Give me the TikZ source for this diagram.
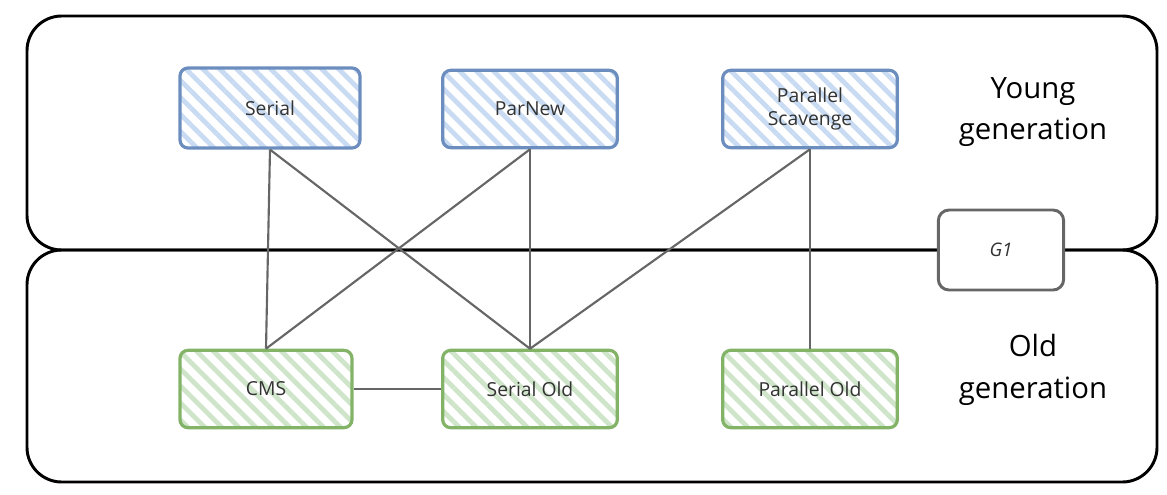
\documentclass[tikz,border=0pt]{standalone}
\usepackage{fontspec}
\setmainfont{Open Sans}
\usetikzlibrary{patterns.meta}
\definecolor{bluestroke}{HTML}{6C8EBF}
\definecolor{bluehatch}{HTML}{C9DBF2}
\definecolor{greenstroke}{HTML}{82B366}
\definecolor{greenhatch}{HTML}{CFE5CA}
\definecolor{linkgray}{HTML}{666666}
\definecolor{labelgray}{HTML}{333333}
\tikzset{
  genbox/.style={draw=black, line width=2.2pt, rounded corners=26pt, inner sep=0pt},
  youngbox/.style={draw=bluestroke, line width=2.4pt, rounded corners=6pt,
    preaction={fill=white},
    preaction={pattern={Lines[angle=-45,distance=9pt,line width=3.6pt]}, pattern color=bluehatch},
    minimum width=131pt, minimum height=58pt, align=center, text=labelgray,
    font=\fontsize{14.5}{18}\selectfont, inner sep=0pt},
  oldbox/.style={draw=greenstroke, line width=2.4pt, rounded corners=6pt,
    preaction={fill=white},
    preaction={pattern={Lines[angle=-45,distance=9pt,line width=3.6pt]}, pattern color=greenhatch},
    minimum width=131pt, minimum height=58pt, align=center, text=labelgray,
    font=\fontsize{14.5}{18}\selectfont, inner sep=0pt},
  gonebox/.style={draw=linkgray, line width=2.2pt, rounded corners=8pt, fill=white,
    minimum width=94pt, minimum height=60pt, text=labelgray,
    font=\itshape\fontsize{14}{16}\selectfont, inner sep=0pt},
  genlabel/.style={align=center, font=\fontsize{22}{31}\selectfont, text=black},
  link/.style={draw=linkgray, line width=1.6pt}
}
\begin{document}
\begin{tikzpicture}[x=0.75pt,y=-0.75pt]
\useasboundingbox (0,0) rectangle (1167,494);
% generation frames
\node[genbox, minimum width=847.5pt, minimum height=175.5pt] (young) at (592,133) {};
\node[genbox, minimum width=847.5pt, minimum height=174pt] (old) at (592,366) {};
% collectors
\node[youngbox, minimum width=135pt, minimum height=60pt] (serial) at (270,108) {Serial};
\node[youngbox] (parnew) at (530,109) {ParNew};
\node[youngbox] (ps) at (810,109) {Parallel\\[-1pt]Scavenge};
\node[oldbox, minimum width=129pt] (cms) at (266,389) {CMS};
\node[oldbox] (serialold) at (530,389) {Serial Old};
\node[oldbox] (parallelold) at (810,389) {Parallel Old};
\node[gonebox] (g1) at (1001,250) {G1};
% connectors
\draw[link] (serial.south) -- (cms.north);
\draw[link] (serial.south) -- (serialold.north);
\draw[link] (parnew.south) -- (cms.north);
\draw[link] (parnew.south) -- (serialold.north);
\draw[link] (ps.south) -- (serialold.north);
\draw[link] (ps.south) -- (parallelold.north);
\draw[link] (cms.east) -- (serialold.west);
% generation labels
\node[genlabel] (younglabel) at (1033,112) {Young\\generation};
\node[genlabel] (oldlabel) at (1033,370) {Old\\generation};
\end{tikzpicture}
\end{document}
